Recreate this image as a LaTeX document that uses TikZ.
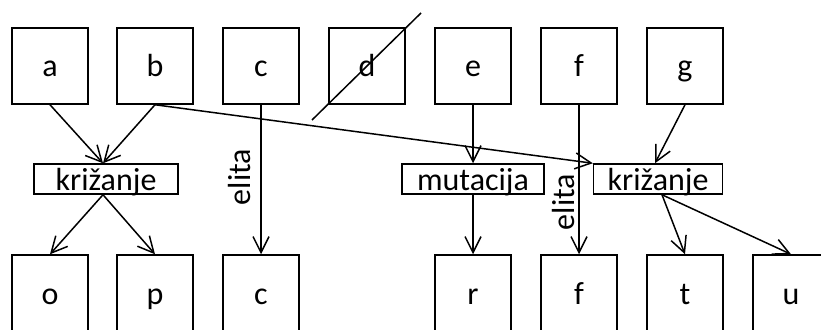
\documentclass[tikz,border=0pt]{standalone}
\usepackage{fontspec}
\setmainfont{Carlito}
\usetikzlibrary{arrows.meta}
\begin{document}
\begin{tikzpicture}[x=1pt,y=-1pt,
  every node/.style={font=\fontsize{32}{36}\selectfont, inner sep=0pt},
  indiv/.style={draw, line width=1.5pt, minimum width=76pt, minimum height=76pt,
                text height=22pt, text depth=0pt},
  oper/.style={draw, line width=1.5pt, minimum height=30pt,
               text height=22pt, text depth=0pt},
  lbl/.style={rotate=90, anchor=base},
  conn/.style={line width=1.5pt, -{Straight Barb[length=16pt,width=16pt,line width=1.5pt]}},
  plain/.style={line width=1.5pt}]
\useasboundingbox (0,0) rectangle (821,329);
% top row
\node[indiv] (a) at (50,66) {a};
\node[indiv] (b) at (155,66) {b};
\node[indiv] (c) at (261,66) {c};
\node[indiv] (d) at (367,66) {d};
\node[indiv] (e) at (473,66) {e};
\node[indiv] (f) at (579,66) {f};
\node[indiv] (g) at (685,66) {g};
% bottom row
\node[indiv] (o) at (50,293) {o};
\node[indiv] (p) at (155,293) {p};
\node[indiv] (c2) at (261,293) {c};
\node[indiv] (r) at (473,293) {r};
\node[indiv] (f2) at (579,293) {f};
\node[indiv] (t) at (685,293) {t};
\node[indiv] (u) at (791,293) {u};
% operators
\node[oper, minimum width=144pt] (kl) at (106,179) {križanje};
\node[oper, minimum width=142pt] (mu) at (473,179) {mutacija};
\node[oper, minimum width=129pt] (kr) at (658,179) {križanje};
% crossing out d
\coordinate (x1) at (312,120);
\coordinate (x2) at (421,13);
\draw[plain] (x1) -- (x2);
% connectors
\draw[conn] (a.south) -- ([xshift=-3pt]kl.north);
\draw[conn] (b.south) -- ([xshift=-3pt]kl.north);
\draw[conn] ([xshift=-3pt]kl.south) -- (o.north);
\draw[conn] ([xshift=-3pt]kl.south) -- (p.north);
\draw[conn] (c.south) -- (c2.north);
\draw[conn] (b.south) -- (kr.north west);
\draw[conn] (e.south) -- (mu.north);
\draw[conn] (mu.south) -- (r.north);
\draw[conn] (f.south) -- (f2.north);
\draw[conn] (g.south) -- ([xshift=-3pt]kr.north);
\draw[conn] ([xshift=4pt]kr.south) -- (t.north);
\draw[conn] ([xshift=4pt]kr.south) -- (u.north);
% labels
\node[lbl] (l1) at (250,177) {elita};
\node[lbl] (l2) at (574,202) {elita};
\end{tikzpicture}
\end{document}
